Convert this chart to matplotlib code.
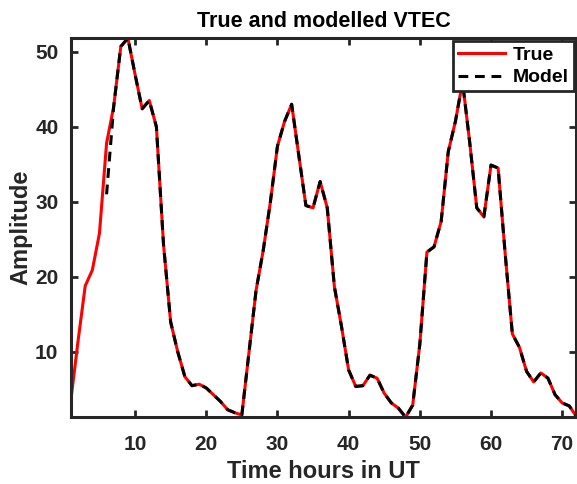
#!/usr/bin/env python3
"""True vs modelled VTEC over three days (hourly)."""
import numpy as np
import matplotlib
matplotlib.use("Agg")
import matplotlib.pyplot as plt

hours = np.arange(1, 73)

vtec_true = [
    3.7, 11.5, 18.8, 20.9, 25.8, 37.8, 42.7, 50.7, 51.8, 47.0,
    42.4, 43.5, 40.0, 24.3, 14.0, 10.0, 6.7, 5.5, 5.7, 5.2,
    4.3, 3.4, 2.3, 1.9, 1.6, 9.9, 18.2, 23.5, 29.9, 37.4,
    40.7, 43.0, 36.2, 29.5, 29.2, 32.7, 29.2, 18.7, 13.4, 7.6,
    5.4, 5.5, 6.9, 6.5, 4.5, 3.2, 2.5, 1.3, 2.9, 11.0,
    23.3, 24.0, 27.4, 36.7, 40.7, 46.0, 38.0, 29.2, 28.0, 34.9,
    34.5, 23.0, 12.4, 10.6, 7.4, 6.0, 7.2, 6.5, 4.3, 3.2,
    2.8, 1.4,
]
# model only starts once the fit window is filled
vtec_model = [np.nan] * 5 + [31.0] + vtec_true[6:]

DARK = "#262626"
plt.rcParams["font.family"] = ["Liberation Sans", "DejaVu Sans"]
plt.rcParams["font.weight"] = "bold"

fig = plt.figure(figsize=(5.77, 4.84), dpi=100)
ax = fig.add_axes([0.123, 0.138, 0.876, 0.783])

ax.plot(hours, vtec_true, color="red", lw=2.2, label="True")
ax.plot(hours, vtec_model, color="black", lw=2.2, ls=(0, (3.2, 2.2)), label="Model")

ax.set_xlim(1, 72)
ax.set_ylim(1.3, 51.8)
ax.set_xticks(np.arange(10, 71, 10))
ax.set_yticks(np.arange(10, 51, 10))

for s in ax.spines.values():
    s.set_linewidth(2.2)
    s.set_color(DARK)
ax.tick_params(direction="in", length=5, width=2, colors=DARK, labelsize=15,
               top=True, right=True)
ax.tick_params(axis="x", pad=13)
ax.tick_params(axis="y", pad=9)
for lab in ax.get_xticklabels() + ax.get_yticklabels():
    lab.set_fontweight("bold")

ax.set_xlabel("Time hours in UT", fontsize=17, fontweight="bold", color=DARK, labelpad=4)
ax.set_ylabel("Amplitude", fontsize=17, fontweight="bold", color=DARK, labelpad=2)
ax.set_title("True and modelled VTEC", fontsize=15.5, fontweight="bold", color="black", pad=8)

leg = ax.legend(loc="upper right", fontsize=14, frameon=True, fancybox=False,
                borderpad=0.25, handlelength=2.4, labelspacing=0.27,
                borderaxespad=0.15, handletextpad=0.4, framealpha=1)
leg.get_frame().set_edgecolor(DARK)
leg.get_frame().set_linewidth(2.0)
for t in leg.get_texts():
    t.set_fontweight("bold")

fig.savefig("out.png", dpi=100)
